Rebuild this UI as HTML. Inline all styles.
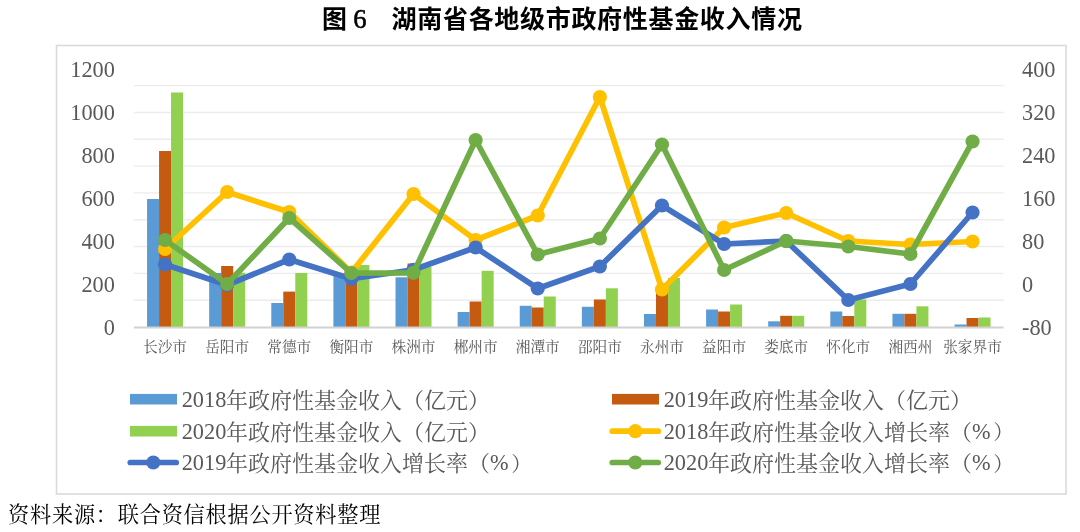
<!DOCTYPE html>
<html lang="zh-CN">
<head>
<meta charset="utf-8">
<title>图 6 湖南省各地级市政府性基金收入情况</title>
<style>
html,body{margin:0;padding:0;background:#fff;}
body{width:1080px;height:532px;overflow:hidden;font-family:"Liberation Serif",serif;}
svg{display:block;will-change:transform;}
svg text{font-family:"Liberation Serif","Noto Serif CJK SC",serif;}
svg text.hei{font-family:"Liberation Sans","Noto Sans CJK SC",sans-serif;font-weight:bold;}
</style>
</head>
<body>
<svg width="1080" height="532" viewBox="0 0 1080 532">
<rect width="1080" height="532" fill="#fff"/>
<rect x="56.5" y="45.5" width="1009.5" height="448.5" fill="#fff" stroke="#DADADA" stroke-width="1.6"/>
<line x1="134.0" x2="1003.6" y1="300.18" y2="300.18" stroke="#ECECEC" stroke-width="1.4"/>
<line x1="134.0" x2="1003.6" y1="273.36" y2="273.36" stroke="#ECECEC" stroke-width="1.4"/>
<line x1="134.0" x2="1003.6" y1="246.54" y2="246.54" stroke="#ECECEC" stroke-width="1.4"/>
<line x1="134.0" x2="1003.6" y1="219.72" y2="219.72" stroke="#ECECEC" stroke-width="1.4"/>
<line x1="134.0" x2="1003.6" y1="192.9" y2="192.9" stroke="#ECECEC" stroke-width="1.4"/>
<line x1="134.0" x2="1003.6" y1="166.08" y2="166.08" stroke="#ECECEC" stroke-width="1.4"/>
<line x1="134.0" x2="1003.6" y1="139.26" y2="139.26" stroke="#ECECEC" stroke-width="1.4"/>
<line x1="134.0" x2="1003.6" y1="112.44" y2="112.44" stroke="#ECECEC" stroke-width="1.4"/>
<line x1="134.0" x2="1003.6" y1="85.62" y2="85.62" stroke="#ECECEC" stroke-width="1.4"/>
<rect x="147.06" y="199" width="12" height="128" fill="#5B9BD5"/>
<rect x="159.06" y="151" width="12" height="176" fill="#C55A11"/>
<rect x="171.06" y="92.5" width="12" height="234.5" fill="#92D050"/>
<rect x="209.17" y="273" width="12" height="54" fill="#5B9BD5"/>
<rect x="221.17" y="266" width="12" height="61" fill="#C55A11"/>
<rect x="233.17" y="272.7" width="12" height="54.3" fill="#92D050"/>
<rect x="271.29" y="303" width="12" height="24" fill="#5B9BD5"/>
<rect x="283.29" y="291.6" width="12" height="35.4" fill="#C55A11"/>
<rect x="295.29" y="273" width="12" height="54" fill="#92D050"/>
<rect x="333.4" y="275.6" width="12" height="51.4" fill="#5B9BD5"/>
<rect x="345.4" y="278" width="12" height="49" fill="#C55A11"/>
<rect x="357.4" y="265" width="12" height="62" fill="#92D050"/>
<rect x="395.51" y="277.3" width="12" height="49.7" fill="#5B9BD5"/>
<rect x="407.51" y="263.5" width="12" height="63.5" fill="#C55A11"/>
<rect x="419.51" y="267" width="12" height="60" fill="#92D050"/>
<rect x="457.63" y="312" width="12" height="15" fill="#5B9BD5"/>
<rect x="469.63" y="301.5" width="12" height="25.5" fill="#C55A11"/>
<rect x="481.63" y="270.8" width="12" height="56.2" fill="#92D050"/>
<rect x="519.74" y="305.8" width="12" height="21.2" fill="#5B9BD5"/>
<rect x="531.74" y="307.5" width="12" height="19.5" fill="#C55A11"/>
<rect x="543.74" y="296.5" width="12" height="30.5" fill="#92D050"/>
<rect x="581.86" y="306.8" width="12" height="20.2" fill="#5B9BD5"/>
<rect x="593.86" y="299.5" width="12" height="27.5" fill="#C55A11"/>
<rect x="605.86" y="288.3" width="12" height="38.7" fill="#92D050"/>
<rect x="643.97" y="314" width="12" height="13" fill="#5B9BD5"/>
<rect x="655.97" y="292.5" width="12" height="34.5" fill="#C55A11"/>
<rect x="667.97" y="278" width="12" height="49" fill="#92D050"/>
<rect x="706.09" y="309.5" width="12" height="17.5" fill="#5B9BD5"/>
<rect x="718.09" y="311.5" width="12" height="15.5" fill="#C55A11"/>
<rect x="730.09" y="304.5" width="12" height="22.5" fill="#92D050"/>
<rect x="768.2" y="321.3" width="12" height="5.7" fill="#5B9BD5"/>
<rect x="780.2" y="315.8" width="12" height="11.2" fill="#C55A11"/>
<rect x="792.2" y="315.8" width="12" height="11.2" fill="#92D050"/>
<rect x="830.31" y="311.5" width="12" height="15.5" fill="#5B9BD5"/>
<rect x="842.31" y="316" width="12" height="11" fill="#C55A11"/>
<rect x="854.31" y="299.5" width="12" height="27.5" fill="#92D050"/>
<rect x="892.43" y="313.8" width="12" height="13.2" fill="#5B9BD5"/>
<rect x="904.43" y="313.8" width="12" height="13.2" fill="#C55A11"/>
<rect x="916.43" y="306.3" width="12" height="20.7" fill="#92D050"/>
<rect x="954.54" y="324.5" width="12" height="2.5" fill="#5B9BD5"/>
<rect x="966.54" y="318" width="12" height="9" fill="#C55A11"/>
<rect x="978.54" y="317.5" width="12" height="9.5" fill="#92D050"/>
<line x1="134.0" x2="1003.6" y1="327.5" y2="327.5" stroke="#D2D2D2" stroke-width="1.8"/>
<g fill="#FFC000" stroke="none"><polyline points="165.06,249 227.17,192 289.29,212 351.4,272.5 413.51,194 475.63,240 537.74,215.5 599.86,97 661.97,289.5 724.09,227.5 786.2,213 848.31,241 910.43,244.5 972.54,241.5" fill="none" stroke="#FFC000" stroke-width="5.7" stroke-linejoin="round" stroke-linecap="round"/><circle cx="165.06" cy="249" r="7.1"/><circle cx="227.17" cy="192" r="7.1"/><circle cx="289.29" cy="212" r="7.1"/><circle cx="351.4" cy="272.5" r="7.1"/><circle cx="413.51" cy="194" r="7.1"/><circle cx="475.63" cy="240" r="7.1"/><circle cx="537.74" cy="215.5" r="7.1"/><circle cx="599.86" cy="97" r="7.1"/><circle cx="661.97" cy="289.5" r="7.1"/><circle cx="724.09" cy="227.5" r="7.1"/><circle cx="786.2" cy="213" r="7.1"/><circle cx="848.31" cy="241" r="7.1"/><circle cx="910.43" cy="244.5" r="7.1"/><circle cx="972.54" cy="241.5" r="7.1"/></g>
<g fill="#4472C4" stroke="none"><polyline points="165.06,264.5 227.17,285 289.29,259.5 351.4,278.8 413.51,269.8 475.63,247.5 537.74,288.5 599.86,266.5 661.97,205.5 724.09,244 786.2,241 848.31,300 910.43,284 972.54,212.5" fill="none" stroke="#4472C4" stroke-width="5.7" stroke-linejoin="round" stroke-linecap="round"/><circle cx="165.06" cy="264.5" r="7.1"/><circle cx="227.17" cy="285" r="7.1"/><circle cx="289.29" cy="259.5" r="7.1"/><circle cx="351.4" cy="278.8" r="7.1"/><circle cx="413.51" cy="269.8" r="7.1"/><circle cx="475.63" cy="247.5" r="7.1"/><circle cx="537.74" cy="288.5" r="7.1"/><circle cx="599.86" cy="266.5" r="7.1"/><circle cx="661.97" cy="205.5" r="7.1"/><circle cx="724.09" cy="244" r="7.1"/><circle cx="786.2" cy="241" r="7.1"/><circle cx="848.31" cy="300" r="7.1"/><circle cx="910.43" cy="284" r="7.1"/><circle cx="972.54" cy="212.5" r="7.1"/></g>
<g fill="#70AD47" stroke="none"><polyline points="165.06,240 227.17,284 289.29,218 351.4,273.1 413.51,272.8 475.63,140 537.74,254.5 599.86,238.5 661.97,144.5 724.09,270 786.2,241 848.31,246.5 910.43,254 972.54,141.5" fill="none" stroke="#70AD47" stroke-width="5.7" stroke-linejoin="round" stroke-linecap="round"/><circle cx="165.06" cy="240" r="7.1"/><circle cx="227.17" cy="284" r="7.1"/><circle cx="289.29" cy="218" r="7.1"/><circle cx="351.4" cy="273.1" r="7.1"/><circle cx="413.51" cy="272.8" r="7.1"/><circle cx="475.63" cy="140" r="7.1"/><circle cx="537.74" cy="254.5" r="7.1"/><circle cx="599.86" cy="238.5" r="7.1"/><circle cx="661.97" cy="144.5" r="7.1"/><circle cx="724.09" cy="270" r="7.1"/><circle cx="786.2" cy="241" r="7.1"/><circle cx="848.31" cy="246.5" r="7.1"/><circle cx="910.43" cy="254" r="7.1"/><circle cx="972.54" cy="141.5" r="7.1"/></g>
<text x="114.9" y="77.4" font-size="22.3" fill="#595959" text-anchor="end">1200</text>
<text x="114.9" y="120.35" font-size="22.3" fill="#595959" text-anchor="end">1000</text>
<text x="114.9" y="163.3" font-size="22.3" fill="#595959" text-anchor="end">800</text>
<text x="114.9" y="206.25" font-size="22.3" fill="#595959" text-anchor="end">600</text>
<text x="114.9" y="249.2" font-size="22.3" fill="#595959" text-anchor="end">400</text>
<text x="114.9" y="292.15" font-size="22.3" fill="#595959" text-anchor="end">200</text>
<text x="114.9" y="335.1" font-size="22.3" fill="#595959" text-anchor="end">0</text>
<text x="1022" y="77.4" font-size="22.3" fill="#595959">400</text>
<text x="1022" y="120.35" font-size="22.3" fill="#595959">320</text>
<text x="1022" y="163.3" font-size="22.3" fill="#595959">240</text>
<text x="1022" y="206.25" font-size="22.3" fill="#595959">160</text>
<text x="1022" y="249.2" font-size="22.3" fill="#595959">80</text>
<text x="1022" y="292.15" font-size="22.3" fill="#595959">0</text>
<text x="1022" y="335.1" font-size="22.3" fill="#595959">-80</text>
<text x="143.08" y="352.3" font-size="14.65" fill="#595959">长沙市</text>
<text x="205.2" y="352.3" font-size="14.65" fill="#595959">岳阳市</text>
<text x="267.31" y="352.3" font-size="14.65" fill="#595959">常德市</text>
<text x="329.42" y="352.3" font-size="14.65" fill="#595959">衡阳市</text>
<text x="391.54" y="352.3" font-size="14.65" fill="#595959">株洲市</text>
<text x="453.65" y="352.3" font-size="14.65" fill="#595959">郴州市</text>
<text x="515.77" y="352.3" font-size="14.65" fill="#595959">湘潭市</text>
<text x="577.88" y="352.3" font-size="14.65" fill="#595959">邵阳市</text>
<text x="640" y="352.3" font-size="14.65" fill="#595959">永州市</text>
<text x="702.11" y="352.3" font-size="14.65" fill="#595959">益阳市</text>
<text x="764.23" y="352.3" font-size="14.65" fill="#595959">娄底市</text>
<text x="826.34" y="352.3" font-size="14.65" fill="#595959">怀化市</text>
<text x="888.45" y="352.3" font-size="14.65" fill="#595959">湘西州</text>
<text x="943.24" y="352.3" font-size="14.65" fill="#595959">张家界市</text>
<rect x="130" y="393.9" width="47" height="10.6" fill="#5B9BD5"/>
<text x="181.7" y="407.1" font-size="22.3" fill="#595959">2018</text>
<text x="226.1" y="407.6" font-size="22" fill="#595959">年政府性基金收入（亿元）</text>
<rect x="612" y="393.9" width="47" height="10.6" fill="#C55A11"/>
<text x="663.7" y="407.1" font-size="22.3" fill="#595959">2019</text>
<text x="708.1" y="407.6" font-size="22" fill="#595959">年政府性基金收入（亿元）</text>
<rect x="130" y="425.9" width="47" height="10.6" fill="#92D050"/>
<text x="181.7" y="439.1" font-size="22.3" fill="#595959">2020</text>
<text x="226.1" y="439.6" font-size="22" fill="#595959">年政府性基金收入（亿元）</text>
<line x1="612.3" x2="658.2" y1="431.2" y2="431.2" stroke="#FFC000" stroke-width="5.7" stroke-linecap="round"/><circle cx="635.3" cy="431.2" r="7.1" fill="#FFC000"/>
<text x="663.7" y="439.1" font-size="22.3" fill="#595959">2018</text>
<text x="708.1" y="439.6" font-size="22" fill="#595959">年政府性基金收入增长率（</text>
<text x="972.1" y="439.1" font-size="22.3" fill="#595959">%</text>
<text x="993.18" y="439.23" font-size="20.46" fill="#595959">）</text>
<line x1="130.3" x2="176.2" y1="462.5" y2="462.5" stroke="#4472C4" stroke-width="5.7" stroke-linecap="round"/><circle cx="153.3" cy="462.5" r="7.1" fill="#4472C4"/>
<text x="181.7" y="470.4" font-size="22.3" fill="#595959">2019</text>
<text x="226.1" y="470.9" font-size="22" fill="#595959">年政府性基金收入增长率（</text>
<text x="490.1" y="470.4" font-size="22.3" fill="#595959">%</text>
<text x="511.18" y="470.53" font-size="20.46" fill="#595959">）</text>
<line x1="612.3" x2="658.2" y1="462.5" y2="462.5" stroke="#70AD47" stroke-width="5.7" stroke-linecap="round"/><circle cx="635.3" cy="462.5" r="7.1" fill="#70AD47"/>
<text x="663.7" y="470.4" font-size="22.3" fill="#595959">2020</text>
<text x="708.1" y="470.9" font-size="22" fill="#595959">年政府性基金收入增长率（</text>
<text x="972.1" y="470.4" font-size="22.3" fill="#595959">%</text>
<text x="993.18" y="470.53" font-size="20.46" fill="#595959">）</text>
<text class="hei" x="321.99" y="27.91" font-size="24.93" fill="#000">图</text>
<text x="353.3" y="27.7" font-size="26.6" fill="#000" stroke="#000" stroke-width="0.55">6</text>
<text class="hei" x="391.62" y="27.96" font-size="25.06" letter-spacing="0.64" fill="#000">湖南省各地级市政府性基金收入情况</text>
<text x="8.08" y="521.91" font-size="21.18" letter-spacing="0.77" fill="#000">资料来源：联合资信根据公开资料整理</text>
</svg>
</body>
</html>
